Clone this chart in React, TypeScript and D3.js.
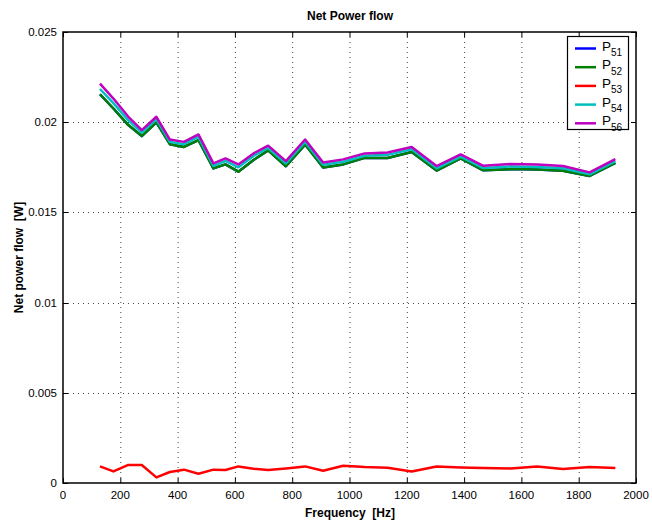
import React from 'react'
import * as d3 from 'd3'

// frequencies [Hz] shared by all series
const freqs = [129, 176, 228, 275, 326, 373, 422, 473, 525, 567, 612, 665, 716, 778,
  845, 908, 978, 1053, 1133, 1217, 1304, 1388, 1467, 1563, 1655, 1745, 1838, 1928]

// net power flow [W]
const p51 = [0.02155, 0.02076, 0.01984, 0.01923, 0.01999, 0.01878, 0.01863, 0.01901, 0.01744, 0.01766,
  0.01726, 0.01790, 0.01844, 0.01756, 0.01876, 0.01749, 0.01766, 0.01802, 0.01802, 0.01835,
  0.01732, 0.01799, 0.01733, 0.01740, 0.01738, 0.01731, 0.01702, 0.01775]
const p52 = [0.02155, 0.02076, 0.01984, 0.01923, 0.01999, 0.01878, 0.01863, 0.01901, 0.01744, 0.01766,
  0.01726, 0.01790, 0.01844, 0.01756, 0.01876, 0.01749, 0.01766, 0.01802, 0.01802, 0.01835,
  0.01732, 0.01799, 0.01733, 0.01740, 0.01738, 0.01731, 0.01702, 0.01775]
const p53 = [0.00092, 0.00064, 0.00100, 0.00100, 0.00031, 0.00061, 0.00074, 0.00051, 0.00074, 0.00072,
  0.00092, 0.00079, 0.00072, 0.00081, 0.00092, 0.00068, 0.00096, 0.00089, 0.00085, 0.00064,
  0.00092, 0.00086, 0.00083, 0.00081, 0.00092, 0.00078, 0.00089, 0.00083]
const p54 = [0.02184, 0.02106, 0.02010, 0.01942, 0.02016, 0.01891, 0.01878, 0.01918, 0.01758, 0.01785,
  0.01750, 0.01813, 0.01857, 0.01771, 0.01891, 0.01764, 0.01781, 0.01814, 0.01819, 0.01850,
  0.01744, 0.01809, 0.01746, 0.01755, 0.01752, 0.01745, 0.01711, 0.01784]
const p56 = [0.02214, 0.02131, 0.02030, 0.01956, 0.02030, 0.01904, 0.01891, 0.01932, 0.01772, 0.01799,
  0.01766, 0.01827, 0.01870, 0.01784, 0.01904, 0.01777, 0.01794, 0.01827, 0.01832, 0.01863,
  0.01757, 0.01821, 0.01758, 0.01768, 0.01765, 0.01757, 0.01722, 0.01795]

const seriesNames = ['51', '52', '53', '54', '56']
const seriesColors = ['#0000ff', '#008000', '#ff0000', '#00bfbf', '#bf00bf']
const seriesValues = [p51, p52, p53, p54, p56]

const xTicks = [0, 200, 400, 600, 800, 1000, 1200, 1400, 1600, 1800, 2000]
const yTicks = [0, 0.005, 0.01, 0.015, 0.02, 0.025]
const yTickLabels = ['0', '0.005', '0.01', '0.015', '0.02', '0.025']

const W = 652, H = 525
const left = 63, right = 636, top = 32, bottom = 483
const font = 'Liberation Sans, Arial, Helvetica, sans-serif'

export default function App() {
  const x = d3.scaleLinear().domain([0, 2000]).range([left, right])
  const y = d3.scaleLinear().domain([0, 0.025]).range([bottom, top])
  const line = d3.line<number>().x((d, i) => x(freqs[i])).y(d => y(d))

  return (
    <svg width={W} height={H} style={{ position: 'absolute', left: 0, top: 0, background: '#fff' }}
      fontFamily={font}>
      <rect x={0} y={0} width={W} height={H} fill="#fff" />
      {/* grid */}
      <g stroke="#444" strokeWidth={1} strokeDasharray="1,4">
        {xTicks.slice(1, -1).map(t => (
          <line key={'gx' + t} x1={x(t) + 0.5} x2={x(t) + 0.5} y1={top} y2={bottom} />
        ))}
        {yTicks.slice(1, -1).map(t => (
          <line key={'gy' + t} x1={left} x2={right} y1={Math.round(y(t)) + 0.5} y2={Math.round(y(t)) + 0.5} />
        ))}
      </g>
      {/* data */}
      <g fill="none" strokeWidth={2.5} strokeLinejoin="round">
        {seriesValues.map((vals, i) => (
          <path key={seriesNames[i]} d={line(vals) || ''} stroke={seriesColors[i]} />
        ))}
      </g>
      {/* frame and ticks */}
      <rect x={left} y={top} width={right - left} height={bottom - top} fill="none" stroke="#000" strokeWidth={1.5} />
      <g stroke="#000" strokeWidth={1}>
        {xTicks.map(t => (
          <g key={'tx' + t}>
            <line x1={x(t) + 0.5} x2={x(t) + 0.5} y1={bottom} y2={bottom - 5} />
            <line x1={x(t) + 0.5} x2={x(t) + 0.5} y1={top} y2={top + 5} />
          </g>
        ))}
        {yTicks.map(t => (
          <g key={'ty' + t}>
            <line x1={left} x2={left + 5} y1={Math.round(y(t)) + 0.5} y2={Math.round(y(t)) + 0.5} />
            <line x1={right} x2={right - 5} y1={Math.round(y(t)) + 0.5} y2={Math.round(y(t)) + 0.5} />
          </g>
        ))}
      </g>
      {/* tick labels */}
      <g fontSize={11.5} fill="#000">
        {xTicks.map(t => (
          <text key={'lx' + t} x={x(t)} y={499} textAnchor="middle">{t}</text>
        ))}
        {yTicks.map((t, i) => (
          <text key={'ly' + t} x={57} y={y(t) + 4} textAnchor="end">{yTickLabels[i]}</text>
        ))}
      </g>
      {/* titles */}
      <text x={350} y={20} textAnchor="middle" fontSize={12} fontWeight="bold">Net Power flow</text>
      <text x={350} y={517} textAnchor="middle" fontSize={12} fontWeight="bold" style={{ whiteSpace: 'pre' }}>Frequency  [Hz]</text>
      <text transform={`translate(23,${(top + bottom) / 2}) rotate(-90)`} textAnchor="middle" fontSize={12}
        fontWeight="bold" style={{ whiteSpace: 'pre' }}>Net power flow  [W]</text>
      {/* legend */}
      <g>
        <rect x={567.5} y={36.5} width={61} height={93} fill="#fff" stroke="#000" strokeWidth={1.2} />
        {seriesNames.map((n, i) => {
          const ly = 48.5 + i * 18.7
          return (
            <g key={'lg' + n}>
              <line x1={575} x2={596} y1={ly} y2={ly} stroke={seriesColors[i]} strokeWidth={2.5} />
              <text x={602} y={ly + 2} fontSize={13.5}>P
                <tspan fontSize={10} dy={5.5}>{n}</tspan>
              </text>
            </g>
          )
        })}
      </g>
    </svg>
  )
}
